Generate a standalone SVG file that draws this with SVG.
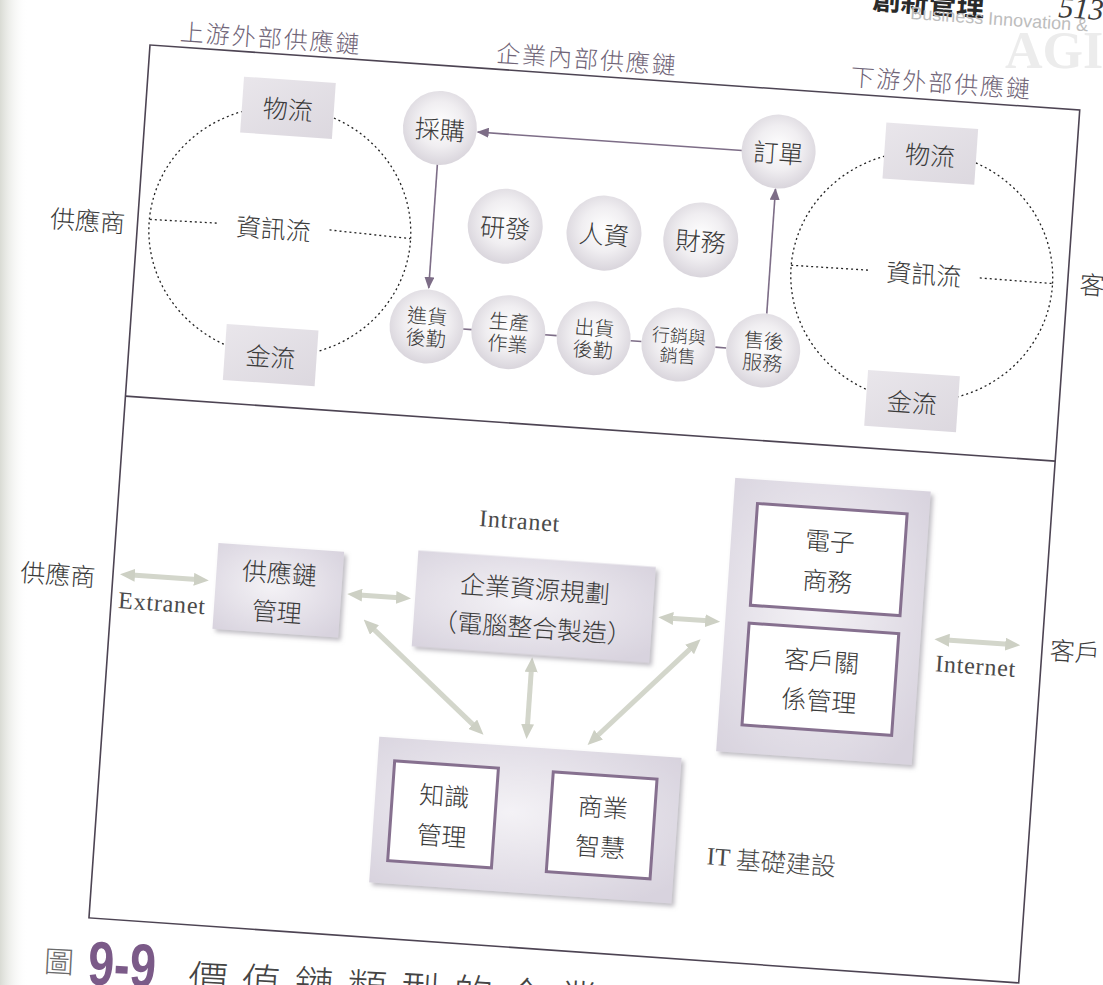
<svg xmlns="http://www.w3.org/2000/svg" width="1103" height="985" viewBox="0 0 1103 985">
  <style>
    .cjk { font-family: "Noto Sans CJK TC", "Noto Sans CJK SC", sans-serif; font-weight: 300; fill: #3a3a3a; }
    .lbl { font-family: "Noto Sans CJK TC", "Noto Sans CJK SC", sans-serif; font-weight: 300; fill: #6f6477; font-size: 24px; letter-spacing: 2px; }
    .ser { font-family: "Liberation Serif", "Noto Sans CJK TC", serif; font-weight: 400; fill: #4a4a4a; }
    .mid { text-anchor: middle; dominant-baseline: central; }
    .frame { fill: none; stroke: #4d4453; stroke-width: 1.6; }
    .dot { fill: none; stroke: #222; stroke-width: 1.3; stroke-dasharray: 2 3; }
    .arr { stroke: #7d6d87; stroke-width: 1.6; fill: none; }
    .big { stroke: #d3d6cb; stroke-width: 5; fill: none; }
    .ball { fill: url(#ball); }
    .flow { fill: url(#flowg); }
    .lav { fill: url(#lav); filter: url(#sh); }
    .inner { fill: #ffffff; stroke: #86708f; stroke-width: 3; }
  </style>
  <defs>
    <radialGradient id="ball" cx="50%" cy="45%" r="55%">
      <stop offset="0" stop-color="#ffffff"/>
      <stop offset="0.55" stop-color="#f0eef1"/>
      <stop offset="1" stop-color="#d9d5dc"/>
    </radialGradient>
    <linearGradient id="flowg" x1="0" y1="0" x2="1" y2="1">
      <stop offset="0" stop-color="#e9e6eb"/>
      <stop offset="1" stop-color="#dcd8df"/>
    </linearGradient>
    <radialGradient id="lav" cx="45%" cy="45%" r="70%">
      <stop offset="0" stop-color="#f4f2f6"/>
      <stop offset="1" stop-color="#d8d3de"/>
    </radialGradient>
    <linearGradient id="gutter" x1="0" y1="0" x2="1" y2="0">
      <stop offset="0" stop-color="#d9dbd4"/>
      <stop offset="1" stop-color="#ffffff" stop-opacity="0"/>
    </linearGradient>
    <filter id="sh" x="-10%" y="-10%" width="125%" height="125%">
      <feDropShadow dx="3" dy="3" stdDeviation="2" flood-color="#8e8994" flood-opacity="0.55"/>
    </filter>
    <marker id="ah" markerUnits="userSpaceOnUse" markerWidth="12" markerHeight="10" refX="11" refY="5" orient="auto">
      <path d="M0,0 L12,5 L0,10 z" fill="#7d6d87"/>
    </marker>
    <marker id="dh" markerUnits="userSpaceOnUse" markerWidth="15" markerHeight="13" refX="3" refY="6.5" orient="auto-start-reverse">
      <path d="M0,0 L15,6.5 L0,13 z" fill="#cdd0c4"/>
    </marker>
  </defs>

  <rect x="0" y="0" width="28" height="985" fill="url(#gutter)"/>

  <!-- page header -->
  <g id="header">
    <text x="1005" y="68" font-family="Liberation Serif, serif" font-weight="bold" font-size="52" fill="#ececec">AGI</text>
    <text x="872" y="9" class="cjk" font-size="28" style="font-weight:700;fill:#2a2a2a" transform="rotate(4 872 9)">創新管理</text>
    <text x="910" y="19" font-family="Liberation Sans, sans-serif" font-size="18" fill="#bdbdbd" transform="rotate(4 910 19)">Business Innovation &amp;</text>
    <text x="1058" y="17" font-family="Liberation Serif, serif" font-style="italic" font-size="30" fill="#3a3a3a" transform="rotate(4 1058 17)">513</text>
  </g>

  <g id="diagram" transform="translate(150,45) rotate(4)">
    <g id="frame">
      <rect class="frame" x="0" y="0" width="932" height="875"/>
      <line class="frame" x1="0" y1="352" x2="932" y2="352"/>
    </g>

    <g id="section-labels">
      <text class="lbl mid" x="120" y="-17">上游外部供應鏈</text>
      <text class="lbl mid" x="437" y="-18">企業內部供應鏈</text>
      <text class="lbl mid" x="792" y="-19">下游外部供應鏈</text>
    </g>

    <!-- upstream flows -->
    <g id="upstream">
      <ellipse class="dot" cx="142.5" cy="177" rx="131" ry="125"/>
      <line class="dot" x1="12" y1="174" x2="80" y2="173"/>
      <line class="dot" x1="192" y1="172" x2="273" y2="175"/>
      <rect class="flow" x="96" y="25" width="92" height="56"/>
      <text class="cjk mid" x="142" y="53" font-size="25">物流</text>
      <rect class="flow" x="96" y="273" width="92" height="56"/>
      <text class="cjk mid" x="142" y="301" font-size="25">金流</text>
      <text class="cjk mid" x="136" y="173" font-size="25">資訊流</text>
      <text class="cjk mid" x="-50" y="178" font-size="25">供應商</text>
    </g>

    <!-- downstream flows -->
    <g id="downstream">
      <ellipse class="dot" cx="786" cy="177" rx="131" ry="125"/>
      <line class="dot" x1="655" y1="175" x2="732" y2="174.5"/>
      <line class="dot" x1="844" y1="174.5" x2="917" y2="175"/>
      <rect class="flow" x="740" y="26" width="92" height="56"/>
      <text class="cjk mid" x="786" y="54" font-size="25">物流</text>
      <rect class="flow" x="739" y="274" width="92" height="56"/>
      <text class="cjk mid" x="785" y="302" font-size="25">金流</text>
      <text class="cjk mid" x="788" y="173" font-size="25">資訊流</text>
      <text class="cjk" x="944" y="172" font-size="25" dominant-baseline="central">客戶</text>
    </g>

    <!-- connectors -->
    <g id="connectors">
      <line class="arr" x1="598" y1="64" x2="333" y2="64" marker-end="url(#ah)"/>
      <line class="arr" x1="295" y1="99" x2="295" y2="223" marker-end="url(#ah)"/>
      <line class="arr" x1="634" y1="225" x2="634" y2="100" marker-end="url(#ah)"/>
      <line class="arr" x1="332" y1="261.5" x2="341" y2="261.5"/>
      <line class="arr" x1="414" y1="261.5" x2="426" y2="261.5"/>
      <line class="arr" x1="500" y1="261.5" x2="511" y2="261.5"/>
      <line class="arr" x1="585" y1="262" x2="596" y2="262"/>

      <line class="big" x1="19" y1="530" x2="84" y2="530" marker-start="url(#dh)" marker-end="url(#dh)"/>
      <line class="big" x1="247" y1="534" x2="287" y2="534" marker-start="url(#dh)" marker-end="url(#dh)"/>
      <line class="big" x1="559" y1="535.5" x2="597" y2="535.5" marker-start="url(#dh)" marker-end="url(#dh)"/>
      <line class="big" x1="836" y1="538" x2="898" y2="538" marker-start="url(#dh)" marker-end="url(#dh)"/>
      <line class="big" x1="262.4" y1="566" x2="371.6" y2="657" marker-start="url(#dh)" marker-end="url(#dh)"/>
      <line class="big" x1="424" y1="596" x2="424" y2="654" marker-start="url(#dh)" marker-end="url(#dh)"/>
      <line class="big" x1="582.5" y1="563.1" x2="493.5" y2="658.9" marker-start="url(#dh)" marker-end="url(#dh)"/>
      <line class="big" x1="413" y1="747" x2="441" y2="747" marker-start="url(#dh)" marker-end="url(#dh)"/>
    </g>

    <g id="n-caigou"><circle class="ball" cx="295" cy="62.5" r="37"/><text class="cjk mid" x="295" y="62.5" font-size="25">採購</text></g>
    <g id="n-dingdan"><circle class="ball" cx="634.5" cy="62.5" r="37"/><text class="cjk mid" x="634.5" y="62.5" font-size="25">訂單</text></g>
    <g id="n-yanfa"><circle class="ball" cx="367" cy="156" r="37.5"/><text class="cjk mid" x="367" y="156" font-size="25">研發</text></g>
    <g id="n-renzi"><circle class="ball" cx="466" cy="156" r="37.5"/><text class="cjk mid" x="466" y="156" font-size="25">人資</text></g>
    <g id="n-caiwu"><circle class="ball" cx="563" cy="156" r="37.5"/><text class="cjk mid" x="563" y="156" font-size="25">財務</text></g>
    <g id="n-jinhuo"><circle class="ball" cx="295.5" cy="261.5" r="37"/><text class="cjk mid" x="295.5" y="250" font-size="20">進貨</text><text class="cjk mid" x="295.5" y="272" font-size="20">後勤</text></g>
    <g id="n-shengchan"><circle class="ball" cx="377.5" cy="261.5" r="37"/><text class="cjk mid" x="377.5" y="250" font-size="20">生產</text><text class="cjk mid" x="377.5" y="272" font-size="20">作業</text></g>
    <g id="n-chuhuo"><circle class="ball" cx="463" cy="261.5" r="37"/><text class="cjk mid" x="463" y="250" font-size="20">出貨</text><text class="cjk mid" x="463" y="272" font-size="20">後勤</text></g>
    <g id="n-xiaoshou"><circle class="ball" cx="548" cy="262" r="37"/><text class="cjk mid" x="548" y="252" font-size="18">行銷與</text><text class="cjk mid" x="548" y="272" font-size="18">銷售</text></g>
    <g id="n-shouhou"><circle class="ball" cx="633" cy="262" r="37"/><text class="cjk mid" x="633" y="251" font-size="20">售後</text><text class="cjk mid" x="633" y="273" font-size="20">服務</text></g>

    <!-- lower section -->
    <g id="n-supplier2"><text class="cjk mid" x="-55" y="533" font-size="25">供應商</text></g>
    <g id="n-customer2"><text class="cjk mid" x="965" y="539" font-size="25">客戶</text></g>
    <g id="labels-net">
      <text class="ser mid" x="51" y="556" font-size="24" letter-spacing="0.8">Extranet</text>
      <text class="ser mid" x="402" y="449" font-size="24" letter-spacing="0.8">Intranet</text>
      <text class="ser mid" x="867" y="562" font-size="24" letter-spacing="0.8">Internet</text>
    </g>

    <g id="n-scm">
      <rect class="lav" x="103" y="492" width="126" height="86"/>
      <text class="cjk mid" x="166" y="516" font-size="25">供應鏈</text>
      <text class="cjk mid" x="166" y="555" font-size="25">管理</text>
    </g>
    <g id="n-erp">
      <rect class="lav" x="303" y="485.5" width="238" height="96"/>
      <text class="cjk mid" x="422" y="514" font-size="25">企業資源規劃</text>
      <text class="cjk mid" x="422" y="553" font-size="25">（電腦整合製造）</text>
    </g>
    <g id="n-ec-crm">
      <rect class="lav" x="614" y="391" width="196" height="274"/>
      <rect class="inner" x="638" y="415" width="150" height="102"/>
      <text class="cjk mid" x="713" y="446" font-size="25">電子</text>
      <text class="cjk mid" x="713" y="486" font-size="25">商務</text>
      <rect class="inner" x="638" y="535" width="150" height="102"/>
      <text class="cjk mid" x="713" y="566" font-size="25">客戶關</text>
      <text class="cjk mid" x="713" y="606" font-size="25">係管理</text>
    </g>
    <g id="n-it">
      <rect class="lav" x="277" y="674" width="303" height="146"/>
      <rect class="inner" x="294" y="697" width="104" height="100"/>
      <text class="cjk mid" x="346" y="727" font-size="25">知識</text>
      <text class="cjk mid" x="346" y="767" font-size="25">管理</text>
      <rect class="inner" x="453" y="697" width="104" height="100"/>
      <text class="cjk mid" x="505" y="727" font-size="25">商業</text>
      <text class="cjk mid" x="505" y="767" font-size="25">智慧</text>
      <text class="ser" x="612" y="770" font-size="25" dominant-baseline="central">IT <tspan style="font-family:'Noto Sans CJK TC','Noto Sans CJK SC',sans-serif;font-weight:300">基礎建設</tspan></text>
    </g>
  </g>

  <!-- caption -->
  <g id="caption" transform="rotate(3 45 962)">
    <text x="44" y="972" class="cjk" font-size="30" style="fill:#6a6a6a">圖</text>
    <text x="88" y="982" font-family="Liberation Sans, sans-serif" font-weight="bold" font-size="62" fill="#7b5a88" textLength="68" lengthAdjust="spacingAndGlyphs">9-9</text>
    <text x="189" y="986" class="cjk" font-size="40" letter-spacing="13" style="fill:#444">價值鏈類型的企業</text>
  </g>
</svg>
